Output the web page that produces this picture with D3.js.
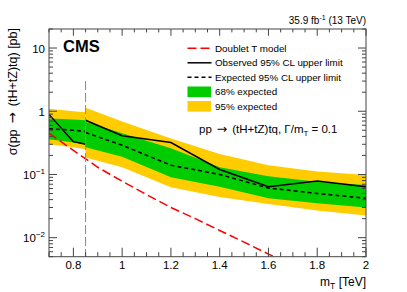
<!DOCTYPE html>
<html>
<head>
<meta charset="utf-8">
<script src="https://cdn.jsdelivr.net/npm/d3@7"></script>
<style>
  body { margin: 0; background: #fff; }
  svg { font-family: "Liberation Sans", Arial, sans-serif; }
</style>
</head>
<body>
<svg id="chart" width="407" height="292"></svg>
<script>
// low mass region (0.7 - 0.85 TeV)
var massLow = [0.7, 0.8, 0.85];
var obsLow = [0.89, 0.33, 0.30];
var expLow = [0.53, 0.50, 0.48];
var g68HiLow = [0.77, 0.74, 0.72];
var g68LoLow = [0.36, 0.32, 0.30];
var y95HiLow = [1.10, 1.00, 0.96];
var y95LoLow = [0.30, 0.27, 0.25];

// high mass region (0.85 - 2 TeV)
var massHigh = [0.85, 1.0, 1.2, 1.4, 1.6, 1.8, 2.0];
var obsHigh = [0.72, 0.41, 0.32, 0.12, 0.064, 0.079, 0.064];
var expHigh = [0.46, 0.29, 0.14, 0.10, 0.061, 0.050, 0.042];
var g68HiHigh = [0.68, 0.45, 0.26, 0.13, 0.094, 0.077, 0.068];
var g68LoHigh = [0.27, 0.19, 0.09, 0.064, 0.042, 0.035, 0.030];
var y95HiHigh = [1.14, 0.69, 0.37, 0.21, 0.14, 0.111, 0.098];
var y95LoHigh = [0.185, 0.13, 0.063, 0.044, 0.034, 0.027, 0.0225];

// doublet T model cross section
var massTheory = [0.7, 0.8, 0.9, 1.0, 1.1, 1.2, 1.3, 1.4, 1.5, 1.6, 1.7];
var xsTheory = [0.45, 0.24, 0.13, 0.078, 0.048, 0.030, 0.020, 0.013, 0.0085, 0.0055, 0.0037];

var splitMass = 0.85, splitTop = 3;
var yMajor = [0.01, 0.1, 1, 10];
var yMajorLabels = [["10", "-2"], ["10", "-1"], ["1", ""], ["10", ""]];
var xMajor = [0.8, 1.0, 1.2, 1.4, 1.6, 1.8, 2.0];

var width = 407, height = 292,
    margin = {left: 49, top: 29, right: 41, bottom: 35.3};

var svg = d3.select('#chart');

var x = d3.scaleLinear().domain([0.7, 2]).range([margin.left, width - margin.right]);
var y = d3.scaleLog().domain([0.005, 20]).range([height - margin.bottom, margin.top]);

svg.append('defs').append('clipPath').attr('id', 'plotclip')
  .append('rect')
  .attr('x', x.range()[0]).attr('y', y.range()[1])
  .attr('width', x.range()[1] - x.range()[0])
  .attr('height', y.range()[0] - y.range()[1]);

var plot = svg.append('g').attr('clip-path', 'url(#plotclip)');

function band(ms, lo, hi, color) {
  var area = d3.area()
    .x(function(d, i) { return x(ms[i]); })
    .y0(function(d, i) { return y(lo[i]); })
    .y1(function(d, i) { return y(hi[i]); });
  plot.append('path').attr('d', area(ms)).attr('fill', color);
}
function curve(ms, vals, color, dash, w) {
  var line = d3.line()
    .x(function(d, i) { return x(ms[i]); })
    .y(function(d) { return y(d); });
  plot.append('path').attr('d', line(vals))
    .attr('fill', 'none').attr('stroke', color)
    .attr('stroke-width', w)
    .attr('stroke-dasharray', dash);
}

band(massLow, y95LoLow, y95HiLow, '#ffcc00');
band(massHigh, y95LoHigh, y95HiHigh, '#ffcc00');
band(massLow, g68LoLow, g68HiLow, '#00cc00');
band(massHigh, g68LoHigh, g68HiHigh, '#00cc00');

curve(massTheory, xsTheory, '#ff0000', '9,4', 1.5);
curve(massLow, expLow, '#000', '4,3', 1.5);
curve(massHigh, expHigh, '#000', '4,3', 1.5);
curve(massLow, obsLow, '#000', null, 1.5);
curve(massHigh, obsHigh, '#000', null, 1.5);

// split between the two mass regions
plot.append('line')
  .attr('x1', x(splitMass)).attr('x2', x(splitMass))
  .attr('y1', y(splitTop)).attr('y2', y.range()[0])
  .attr('stroke', '#888').attr('stroke-width', 1)
  .attr('stroke-dasharray', '9,3');

// frame + ticks (ROOT style, inside on all sides)
var x0 = x.range()[0], x1 = x.range()[1], yb = y.range()[0], yt = y.range()[1];
var axisCol = '#444';

var xMinor = d3.range(0.7, 2.001, 0.05).map(function(v) { return +v.toFixed(2); });
var yMinor = [];
[0.001, 0.01, 0.1, 1, 10].forEach(function(dec) {
  for (var k = 2; k <= 9; k++) {
    var v = dec * k;
    if (v >= 0.005 && v <= 20) yMinor.push(v);
  }
});

var ticks = svg.append('g').attr('stroke', axisCol).attr('stroke-width', 1);
xMinor.forEach(function(v) {
  var len = xMajor.some(function(m) { return Math.abs(m - v) < 1e-6; }) ? 9 : 4.5;
  var px = x(v);
  ticks.append('line').attr('x1', px).attr('x2', px).attr('y1', yb).attr('y2', yb - len);
  ticks.append('line').attr('x1', px).attr('x2', px).attr('y1', yt).attr('y2', yt + len * 0.75);
});
yMajor.concat(yMinor).forEach(function(v, i) {
  var len = i < yMajor.length ? 8 : 4;
  var py = y(v);
  ticks.append('line').attr('x1', x0).attr('x2', x0 + len).attr('y1', py).attr('y2', py);
  ticks.append('line').attr('x1', x1).attr('x2', x1 - len).attr('y1', py).attr('y2', py);
});

svg.append('rect')
  .attr('x', x0).attr('y', yt).attr('width', x1 - x0).attr('height', yb - yt)
  .attr('fill', 'none').attr('stroke', axisCol).attr('stroke-width', 1);

// tick labels
svg.append('g').selectAll('text').data(xMajor).join('text')
  .attr('x', function(d) { return x(d); })
  .attr('y', yb + 12.5)
  .attr('text-anchor', 'middle')
  .attr('font-size', 11.5)
  .text(function(d) { return d === 1 ? '1' : d === 2 ? '2' : d3.format('.1f')(d); });

yMajor.forEach(function(v, i) {
  var t = svg.append('text')
    .attr('x', x0 - 4).attr('y', y(v) + 4.5)
    .attr('text-anchor', 'end').attr('font-size', 11.5);
  t.append('tspan').text(yMajorLabels[i][0]);
  if (yMajorLabels[i][1]) {
    t.append('tspan').attr('dy', -5).attr('font-size', 8).text('\u2212' + yMajorLabels[i][1].slice(1));
  }
});

// axis titles
var xt = svg.append('text')
  .attr('x', x1).attr('y', 286)
  .attr('text-anchor', 'end').attr('font-size', 12);
xt.append('tspan').text('m');
xt.append('tspan').attr('dy', 3).attr('font-size', 8.5).text('T');
xt.append('tspan').attr('dy', -3).text(' [TeV]');

var arrowFont = 'DejaVu Sans';
var yTitle = svg.append('text')
  .attr('transform', 'translate(17,' + (yt - 1) + ') rotate(-90)')
  .attr('text-anchor', 'end').attr('font-size', 12.5);
yTitle.append('tspan').text('\u03c3(pp');
yTitle.append('tspan').attr('dx', 6).attr('font-family', arrowFont).attr('font-size', 13.5).text('\u2192');
yTitle.append('tspan').attr('dx', 6).text('(tH+tZ)tq) [pb]');

// labels
svg.append('text').attr('x', 63).attr('y', 51.5)
  .attr('font-size', 16.5).attr('font-weight', 'bold').text('CMS');

var lumi = svg.append('text').attr('x', x1).attr('y', 24)
  .attr('text-anchor', 'end').attr('font-size', 10);
lumi.append('tspan').text('35.9 fb');
lumi.append('tspan').attr('dy', -4).attr('font-size', 7).text('-1');
lumi.append('tspan').attr('dy', 4).text(' (13 TeV)');

var proc = svg.append('text').attr('x', 199).attr('y', 133)
  .attr('font-size', 11.5);
proc.append('tspan').text('pp');
proc.append('tspan').attr('dx', 5).attr('font-family', arrowFont).attr('font-size', 12.5).text('\u2192');
proc.append('tspan').attr('dx', 5).text('(tH+tZ)tq, \u0393/m');
proc.append('tspan').attr('dy', 3).attr('font-size', 8).text('T');
proc.append('tspan').attr('dy', -3).text(' = 0.1');

// legend
var legendItems = [
  {label: 'Doublet T model', type: 'line', color: '#ff0000', dash: '9,4'},
  {label: 'Observed 95% CL upper limit', type: 'line', color: '#000', dash: null},
  {label: 'Expected 95% CL upper limit', type: 'line', color: '#000', dash: '4,3'},
  {label: '68% expected', type: 'box', color: '#00cc00'},
  {label: '95% expected', type: 'box', color: '#ffcc00'}
];
var legend = svg.append('g');
legendItems.forEach(function(d, i) {
  var cy = 48.3 + i * 14.5;
  if (d.type === 'line') {
    legend.append('line').attr('x1', 187.5).attr('x2', 211.5).attr('y1', cy).attr('y2', cy)
      .attr('stroke', d.color).attr('stroke-width', 1.5).attr('stroke-dasharray', d.dash);
  } else {
    legend.append('rect').attr('x', 187.5).attr('y', cy - 5.3).attr('width', 23.5).attr('height', 10.6)
      .attr('fill', d.color);
  }
  legend.append('text').attr('x', 215).attr('y', cy + 3.5)
    .attr('font-size', 9.8).text(d.label);
});
</script>
</body>
</html>
